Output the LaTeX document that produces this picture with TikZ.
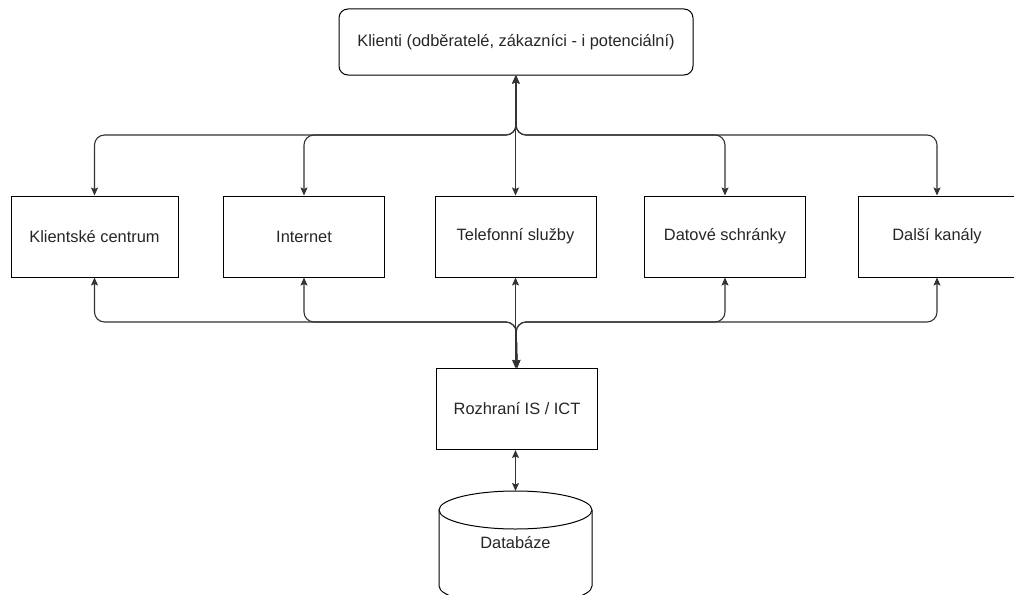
\documentclass[tikz,border=0pt]{standalone}
\usepackage{fontspec}
\setmainfont{Liberation Sans}
\usetikzlibrary{arrows.meta,calc}

\begin{document}
\begin{tikzpicture}[x=1pt,y=-1pt,
  box/.style={draw=black,line width=1pt,fill=white,minimum width=161pt,minimum height=81pt,
    inner sep=0pt,font=\fontsize{16.4}{19}\selectfont,text=black!85},
  link/.style={draw=black!80,line width=1.1pt,rounded corners=10pt,
    {Stealth[length=8pt,width=7pt,inset=1.5pt]}-{Stealth[length=8pt,width=7pt,inset=1.5pt]}},
]
\useasboundingbox (0,0) rectangle (1014,594);

% client box on top
\node[box,rounded corners=9pt,minimum width=354pt,minimum height=66pt] (top) at (516,42)
  {Klienti (odběratelé, zákazníci - i potenciální)};

% channel row
\node[box,minimum width=167pt] (kc)  at (94.5,236.5)  {Klientské centrum};
\node[box] (net) at (304,236.5)   {Internet};
\node[box] (tel) at (515.5,236.5) {Telefonní služby};
\node[box] (ds)  at (725,236.5)   {Datové schránky};
\node[box,minimum width=158pt] (dk)  at (937,236.5) {Další kanály};

% interface box
\node[box] (ict) at (517,409) {Rozhraní IS / ICT};

% junction points of the bus lines
\coordinate (hubT) at (516,135);
\coordinate (hubB) at (516,322);

% clients <-> channels
\draw[link] (kc.north)  |- (hubT) -- (top.south);
\draw[link] (net.north) |- (hubT) -- (top.south);
\draw[link] (tel.north) -- (tel.north |- top.south);
\draw[link] (ds.north)  |- (hubT) -- (top.south);
\draw[link] (dk.north)  |- (hubT) -- (top.south);

% channels <-> interface
\draw[link] (kc.south)  |- (hubB) -- (ict.north);
\draw[link] (net.south) |- (hubB) -- (ict.north);
\draw[link] (tel.south) -- (tel.south |- ict.north);
\draw[link] (ds.south)  |- (hubB) -- (ict.north);
\draw[link] (dk.south)  |- (hubB) -- (ict.north);

% database cylinder
\begin{scope}
  \clip (0,0) rectangle (1014,594);
  \fill[white] (439,510) -- (439,586) arc[start angle=180,end angle=360,x radius=76.5,y radius=-19]
     -- (592,510) -- cycle;
  \draw[line width=1pt] (439,510) -- (439,586) arc[start angle=180,end angle=360,x radius=76.5,y radius=-19]
     -- (592,510);
  \draw[line width=1pt,fill=white] (515.5,510) ellipse[x radius=76.5,y radius=19];
\end{scope}
\coordinate (dbtop) at (515.5,491);
\node[font=\fontsize{16.4}{19}\selectfont,text=black!85] (db) at (515.5,543) {Databáze};

% interface <-> database
\draw[link] (ict.south -| dbtop) -- (dbtop);
\end{tikzpicture}
\end{document}
